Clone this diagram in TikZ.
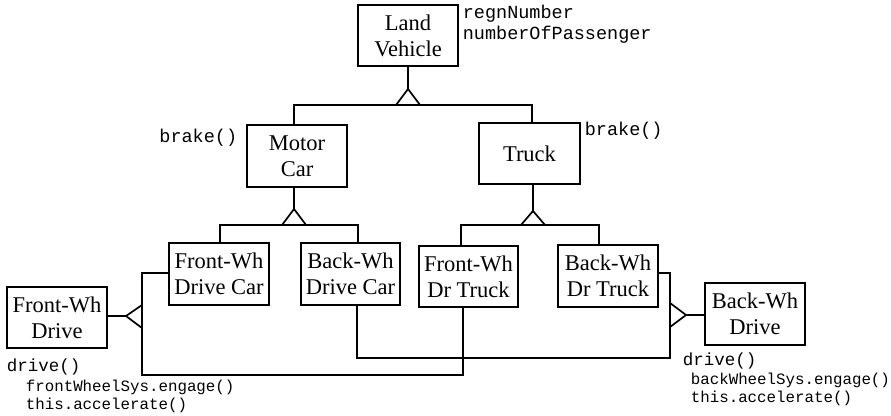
\documentclass[tikz,border=0pt]{standalone}
\usepackage{fontspec}
\setmainfont{Liberation Serif}
\newfontfamily\monofnt{Liberation Mono}
\begin{document}
\begin{tikzpicture}[x=1pt,y=-1pt,line width=1.7pt,
  cls/.style={draw,rectangle,inner sep=0pt,align=center,
    font=\fontsize{22.5}{26}\selectfont},
  attr/.style={inner sep=0pt,font=\monofnt\fontsize{18.5}{21}\selectfont},
  drv/.style={inner sep=0pt,font=\monofnt\fontsize{17.5}{20}\selectfont},
  code/.style={inner sep=0pt,font=\monofnt\fontsize{15.8}{18}\selectfont},
  tri/.style={line join=miter}]
\useasboundingbox (0,0) rectangle (891,415);
% classes
\node[cls,minimum width=100pt,minimum height=61pt] (LV) at (408,35.5) {Land\\Vehicle};
\node[cls,minimum width=100pt,minimum height=62pt] (MC) at (297,156) {Motor\\Car};
\node[cls,minimum width=101pt,minimum height=61pt] (TR) at (529.5,153.5) {Truck};
\node[cls,minimum width=100pt,minimum height=62pt] (FWDC) at (219,274) {Front-Wh\\Drive Car};
\node[cls,minimum width=99pt,minimum height=62pt] (BWDC) at (350.5,274) {Back-Wh\\Drive Car};
\node[cls,minimum width=99pt,minimum height=61pt] (FWDT) at (468.5,276.5) {Front-Wh\\Dr Truck};
\node[cls,minimum width=100pt,minimum height=62pt] (BWDT) at (608,276) {Back-Wh\\Dr Truck};
\node[cls,minimum width=100pt,minimum height=61pt] (FWD) at (57,317.5) {Front-Wh\\Drive};
\node[cls,minimum width=100pt,minimum height=62pt] (BWD) at (755,314) {Back-Wh\\Drive};
% labels
\node[attr,anchor=west] (a1) at (462,14) {regnNumber};
\node[attr,anchor=west] (a2) at (462,35) {numberOfPassenger};
\node[attr,anchor=east] (b1) at (238,138) {brake()};
\node[attr,anchor=west] (b2) at (584,131) {brake()};
\node[drv,anchor=west] (d1) at (6,367) {drive()};
\node[code,anchor=west] (c1) at (25,387) {frontWheelSys.engage()};
\node[code,anchor=west] (c2) at (25,405) {this.accelerate()};
\node[drv,anchor=west] (d2) at (682,361) {drive()};
\node[code,anchor=west] (c3) at (690,380) {backWheelSys.engage()};
\node[code,anchor=west] (c4) at (690,398) {this.accelerate()};
% generalization 1
\coordinate (t1) at (408,89);
\draw (LV.south) -- (t1);
\draw[tri] (t1) -- (396,105) -- (420,105) -- cycle;
\draw ([xshift=-3pt]MC.north) |- (294,105) -- (532,105) -- ([xshift=2.5pt]TR.north);
% generalization 2
\coordinate (t2) at (294,209);
\draw ([xshift=-3pt]MC.south) -- (t2);
\draw[tri] (t2) -- (282,225) -- (306,225) -- cycle;
\draw ([xshift=1pt]FWDC.north) |- (220,225) -- (358,225) -- ([xshift=7.5pt]BWDC.north);
% generalization 3
\coordinate (t3) at (533,211);
\draw ([xshift=3.5pt]TR.south) -- (t3);
\draw[tri] (t3) -- (521,225) -- (545,225) -- cycle;
\draw ([xshift=-7.5pt]FWDT.north) |- (461,225) -- (599,225) -- ([xshift=-9pt]BWDT.north);
% front-wheel drive
\coordinate (t4) at (126,316);
\draw (FWD.east |- t4) -- (t4);
\draw[tri] (t4) -- (142,305) -- (142,328) -- cycle;
\draw (FWDC.west |- 0,273) -- (142,273) -- (142,375) -- (463,375) -- ([xshift=-5.5pt]FWDT.south);
% back-wheel drive
\coordinate (t5) at (686,315);
\draw (t5) -- (BWD.west |- t5);
\draw[tri] (t5) -- (670,303) -- (670,327) -- cycle;
\draw (BWDT.east |- 0,273) -- (670,273) -- (670,358) -- (357,358) -- ([xshift=6.5pt]BWDC.south);
\end{tikzpicture}
\end{document}
